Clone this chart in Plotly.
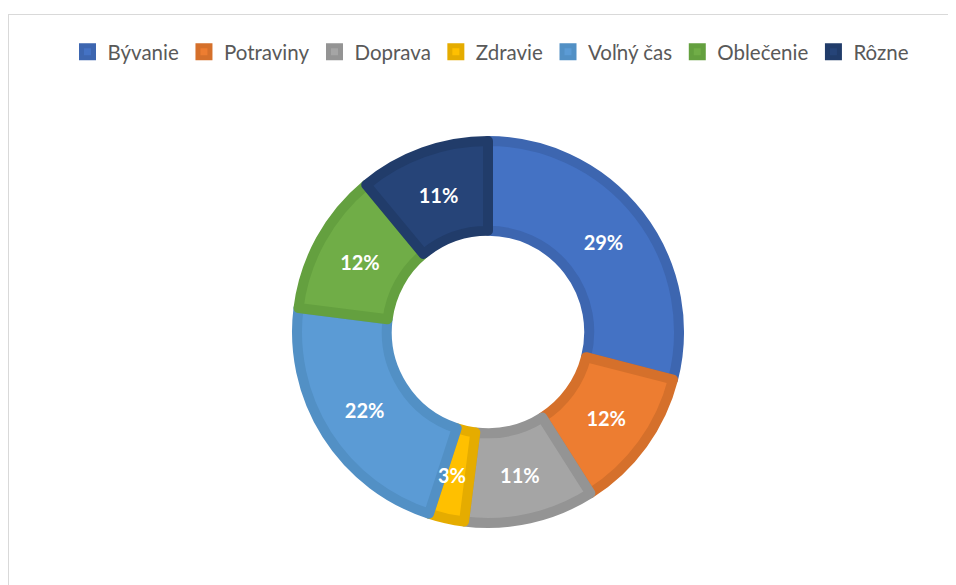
import math
import plotly.graph_objects as go

categories = ["Bývanie", "Potraviny", "Doprava", "Zdravie", "Voľný čas", "Oblečenie", "Rôzne"]
values = [29, 12, 11, 3, 22, 12, 11]
fill_colors = ["#4472C4", "#ED7D31", "#A5A5A5", "#FFC000", "#5B9BD5", "#70AD47", "#264478"]
line_colors = ["#3D66B0", "#D5702B", "#949494", "#E5AC00", "#5290C5", "#64A03F", "#213C6A"]

# page has an 8px body margin: figure fills the rest of the 956x585 window
W, H = 948, 577
cx, cy = 480, 324          # donut centre in figure pixels
R = 191                    # fill radius (the 10px outline adds 5px outside)
line_w = 10
hole = 0.53

total = sum(values)
small = [v / total < 0.05 for v in values]
textpos = ["none" if s else "inside" for s in small]

label_font = dict(family="Lato", size=20, color="white", weight="bold")

fig = go.Figure(go.Pie(
    labels=categories,
    values=values,
    hole=hole,
    sort=False,
    direction="clockwise",
    rotation=0,
    marker=dict(colors=fill_colors, line=dict(color=line_colors, width=line_w)),
    texttemplate="%{percent:.0%}",
    textposition=textpos,
    insidetextorientation="horizontal",
    textfont=label_font,
    domain=dict(x=[(cx - R) / W, (cx + R) / W], y=[(H - cy - R) / H, (H - cy + R) / H]),
    showlegend=True,
    hoverinfo="label+percent",
))

# labels for thin slices, placed at mid-ring of their angle (computed from the data)
annotations = []
cum = 0
r_mid = (R * hole + R) / 2
for v, s in zip(values, small):
    theta = 2 * math.pi * (cum + v / 2) / total
    cum += v
    if s:
        px = cx + r_mid * math.sin(theta) - 4
        py = cy - r_mid * math.cos(theta)
        annotations.append(dict(
            x=px / W, y=1 - py / H, xref="paper", yref="paper",
            text=f"{round(100 * v / total)}%", showarrow=False,
            font=label_font, xanchor="center", yanchor="middle",
        ))

fig.update_layout(
    width=W, height=H,
    margin=dict(l=0, r=0, t=0, b=0),
    paper_bgcolor="white",
    plot_bgcolor="white",
    legend=dict(
        orientation="h",
        x=0.5 + 9 / W, xanchor="center",
        y=1 - 44 / H, yanchor="middle",
        font=dict(family="Lato", size=20.5, color="#595959"),
        itemclick=False,
        tracegroupgap=0,
    ),
    annotations=annotations,
    shapes=[
        dict(type="line", xref="paper", yref="paper", x0=0, x1=1, y0=1 - 6.5 / H, y1=1 - 6.5 / H,
             line=dict(color="#D9D9D9", width=1)),
        dict(type="line", xref="paper", yref="paper", x0=0.5 / W, x1=0.5 / W, y0=0, y1=1 - 6.5 / H,
             line=dict(color="#D9D9D9", width=1)),
    ],
)

fig.write_html("out.html")
